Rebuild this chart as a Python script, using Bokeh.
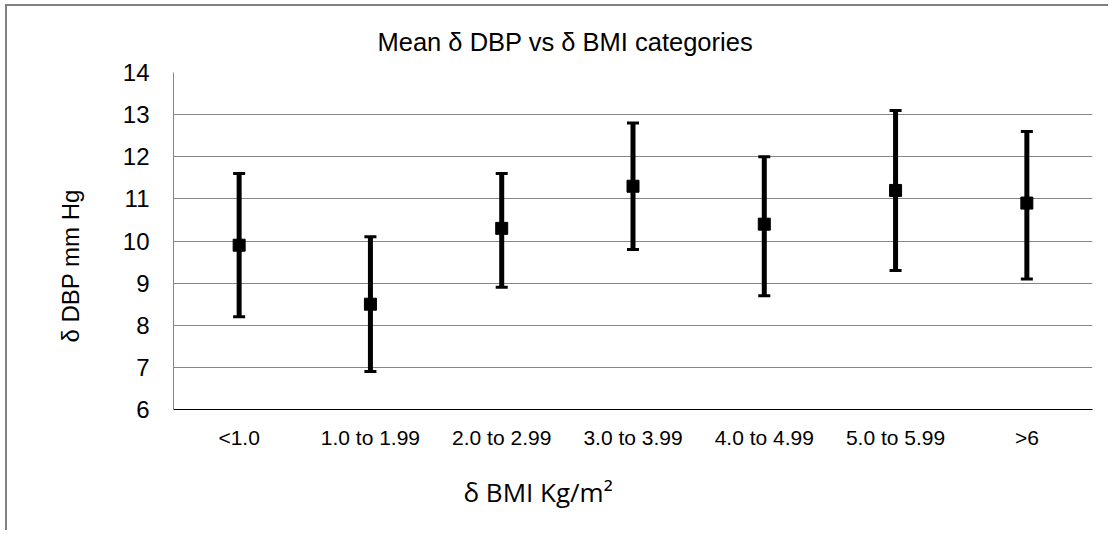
from bokeh.plotting import figure
from bokeh.models import (ColumnDataSource, FactorRange, Whisker, TeeHead,
                          FixedTicker, Title)
from bokeh.embed import file_html
from bokeh.resources import INLINE

categories = ["<1.0", "1.0 to 1.99", "2.0 to 2.99", "3.0 to 3.99",
              "4.0 to 4.99", "5.0 to 5.99", ">6"]
mean_dbp = [9.9, 8.5, 10.3, 11.3, 10.4, 11.2, 10.9]
lower_ci = [8.2, 6.9, 8.9, 9.8, 8.7, 9.3, 9.1]
upper_ci = [11.6, 10.1, 11.6, 12.8, 12.0, 13.1, 12.6]
y_ticks = [6, 7, 8, 9, 10, 11, 12, 13, 14]

FONT = "Liberation Sans"

src = ColumnDataSource(dict(cat=categories, mean=mean_dbp,
                            lo=lower_ci, hi=upper_ci))

p = figure(width=1103, height=526, output_backend="svg", toolbar_location=None,
           x_range=FactorRange(factors=categories, range_padding=0),
           y_range=(6, 14),
           min_border_left=166, min_border_right=18,
           min_border_top=66, min_border_bottom=123,
           styles={"margin-left": "7px", "margin-top": "6px",
                   "box-shadow": "-2px -2px 0 0 #808080"})
p.outline_line_color = None
p.background_fill_color = "white"
p.border_fill_color = "white"

# title
p.title = Title(text="Mean δ DBP vs δ BMI categories", align="left", offset=204,
                text_font=FONT, text_font_size="25.5px", text_font_style="normal",
                text_color="black", standoff=34)

# grid
p.xgrid.grid_line_color = None
p.ygrid.grid_line_color = "#868686"
p.ygrid.grid_line_width = 1
p.yaxis.ticker = FixedTicker(ticks=y_ticks)

# axes
p.yaxis.axis_line_color = "#868686"
p.yaxis.major_tick_line_color = None
p.yaxis.minor_tick_line_color = None
p.yaxis.major_label_text_font = FONT
p.yaxis.major_label_text_font_size = "24px"
p.yaxis.major_label_text_color = "black"
p.yaxis.major_label_standoff = 18

p.xaxis.axis_line_color = "black"
p.xaxis.major_tick_line_color = None
p.xaxis.major_label_text_font = FONT
p.xaxis.major_label_text_font_size = "21px"
p.xaxis.major_label_text_color = "black"
p.xaxis.major_label_standoff = 10

# axis titles as side titles (placed like the reference)
p.add_layout(Title(text="δ BMI Kg/m²", align="left", offset=290,
                   text_font="Open Sans", text_font_size="26px",
                   text_font_style="normal", text_color="black", standoff=40),
             "below")
p.add_layout(Title(text="δ DBP mm Hg", align="left", offset=67,
                   text_font=FONT, text_font_size="24px",
                   text_font_style="normal", text_color="black", standoff=72),
             "left")

# error bars
wh = Whisker(source=src, base="cat", upper="hi", lower="lo", dimension="height",
             line_color="black", line_width=5,
             upper_head=TeeHead(size=12, line_width=3, line_color="black"),
             lower_head=TeeHead(size=12, line_width=3, line_color="black"))
p.add_layout(wh)

p.scatter(x="cat", y="mean", source=src, marker="square", size=12,
          fill_color="black", line_color="black")

open("out.html", "w").write(file_html(p, INLINE))
